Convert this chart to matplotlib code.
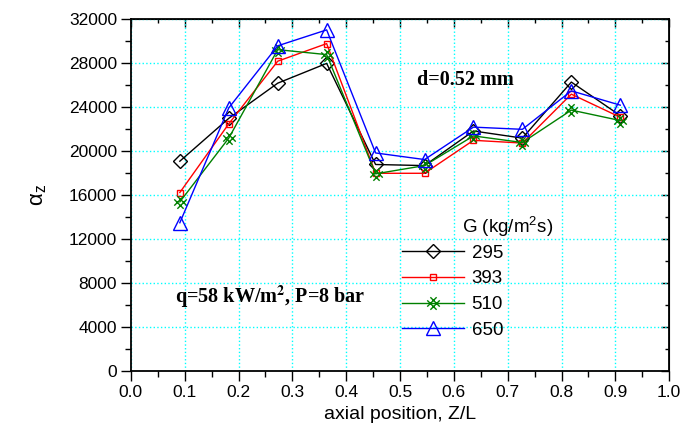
#!/usr/bin/env python3
"""Local heat transfer coefficient along the channel, d=0.52 mm."""
import matplotlib
matplotlib.use("Agg")
import matplotlib.pyplot as plt
from matplotlib.path import Path
from matplotlib.ticker import MultipleLocator

# axial positions Z/L
z_pos = [1 / 11, 2 / 11, 3 / 11, 4 / 11, 5 / 11, 6 / 11, 7 / 11, 8 / 11, 9 / 11, 10 / 11]

# alpha_z for each mass flux G (kg/m^2 s)
g_labels = ["295", "393", "510", "650"]
alpha_295 = [19100, 23000, 26200, 28000, 18800, 18700, 21850, 21200, 26300, 23250]
alpha_393 = [16250, 22500, 28200, 29800, 18000, 18000, 21000, 20750, 25200, 23100]
alpha_510 = [15400, 21200, 29250, 28800, 17950, 18700, 21400, 20800, 23750, 22800]
alpha_650 = [13500, 23950, 29600, 31050, 19850, 19250, 22200, 22000, 25500, 24200]

x_ticks = [0.0, 0.1, 0.2, 0.3, 0.4, 0.5, 0.6, 0.7, 0.8, 0.9, 1.0]
y_ticks = [0, 4000, 8000, 12000, 16000, 20000, 24000, 28000, 32000]


def lattice_marker():
    # rotated "#" - two diagonal strokes each way
    verts = [(-1, -0.5), (0.5, 1), (-0.5, -1), (1, 0.5),
             (-0.5, 1), (1, -0.5), (-1, 0.5), (0.5, -1)]
    codes = [Path.MOVETO, Path.LINETO] * 4
    return Path(verts, codes)


def main():
    plt.rcParams.update({
        "font.family": "sans-serif",
        "font.sans-serif": ["Liberation Sans", "DejaVu Sans"],
        "font.size": 12.5,
        "mathtext.fontset": "custom",
        "mathtext.rm": "Liberation Sans",
        "mathtext.it": "Liberation Sans:italic",
        "mathtext.bf": "Liberation Sans:bold",
    })

    fig = plt.figure(figsize=(7.0, 4.32), dpi=100)
    ax = fig.add_axes([0.187, 0.141, 0.769, 0.814])

    styles = [
        (alpha_295, "black", "D", 7.5),
        (alpha_393, "red", "s", 4.5),
        (alpha_510, "green", lattice_marker(), 9),
        (alpha_650, "blue", "^", 9.5),
    ]
    for (vals, color, marker, ms), lab in zip(styles, g_labels):
        ax.plot(z_pos, vals, color=color, lw=1.0, marker=marker, ms=ms,
                mfc="none", mec=color, mew=1.0, label=lab)

    ax.set_xlim(0, 1.0)
    ax.set_ylim(0, 32000)
    ax.set_xticks(x_ticks)
    ax.set_xticklabels([f"{t:.1f}" for t in x_ticks])
    ax.set_yticks(y_ticks)
    ax.xaxis.set_minor_locator(MultipleLocator(0.05))
    ax.yaxis.set_minor_locator(MultipleLocator(2000))
    ax.tick_params(which="major", direction="out", length=7, width=1.0,
                   labelsize=12.5, colors="black", pad=3)
    ax.tick_params(which="minor", direction="out", length=4, width=1.0)
    ax.grid(True, which="major", color="#00ffff", ls=":", lw=1.0)
    for sp in ax.spines.values():
        sp.set_linewidth(1.3)

    # mirrored inward ticks on top and right
    top = ax.secondary_xaxis("top")
    top.set_xticks(x_ticks)
    top.xaxis.set_minor_locator(MultipleLocator(0.05))
    top.tick_params(which="major", direction="in", length=6, width=1.0, labeltop=False)
    top.tick_params(which="minor", direction="in", length=3, width=1.0)
    right = ax.secondary_yaxis("right")
    right.set_yticks(y_ticks)
    right.yaxis.set_minor_locator(MultipleLocator(2000))
    right.tick_params(which="major", direction="in", length=6, width=1.0, labelright=False)
    right.tick_params(which="minor", direction="in", length=3, width=1.0)

    ax.set_xlabel("axial position, Z/L", fontsize=14, labelpad=4)
    ax.set_ylabel(r"$\mathrm{\alpha}_{\mathrm{z}}$", fontsize=16, labelpad=14)

    ax.text(0.532, 26000, "d=0.52 mm", fontsize=14.5, fontweight="bold",
            family="Liberation Serif", va="baseline", math_fontfamily="stix")
    ax.text(0.082, 6200, r"q=58 kW/m$^{\mathbf{2}}$, P=8 bar", fontsize=14.5,
            fontweight="bold", family="Liberation Serif", va="baseline",
            math_fontfamily="stix")

    ax.text(0.615, 13150, r"G (kg/m$^{\mathrm{2}}$s)", fontsize=13.5, va="center")
    ax.legend(loc="upper left", bbox_to_anchor=(0.504, 0.36), frameon=False,
              fontsize=13.5, handlelength=3.3, handletextpad=0.4,
              labelspacing=0.46, borderaxespad=0, borderpad=0)

    fig.savefig("out.png", dpi=100)
    plt.close(fig)


if __name__ == "__main__":
    main()
